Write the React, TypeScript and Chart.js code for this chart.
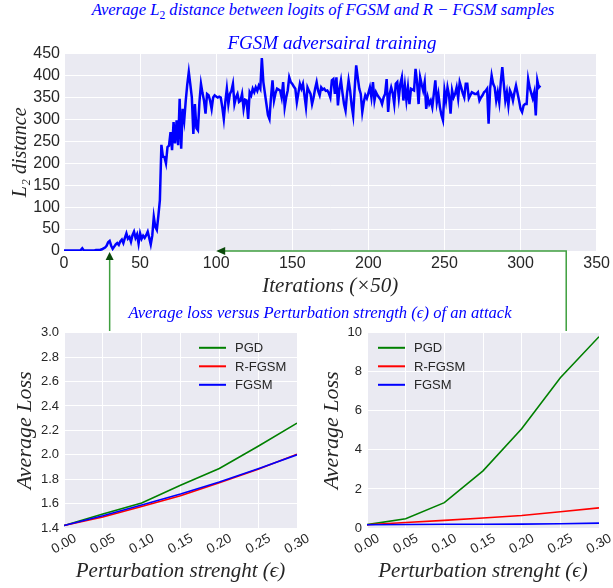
import React, { useEffect, useRef } from "react";
import { Chart, registerables } from "chart.js";

Chart.register(...registerables);

// ---------------- data ----------------
// Average L2 distance between logits, one value per logged iteration (x50)
const l2Distance = [
  1, 1, 1, 1, 1, 1, 1, 1, 1, 1,
  1, 2, 6, 1, 1, 1, 1, 1, 1, 1,
  1, 2, 2, 2, 3, 4, 6, 8, 12, 20,
  23, 12, 5, 10, 15, 18, 14, 22, 26, 18,
  30, 40, 28, 32, 21, 36, 44, 30, 38, 17,
  40, 28, 35, 30, 36, 44, 30, 15, 35, 78,
  55, 48, 80, 116, 242, 215, 214, 200, 237, 240,
  271, 230, 294, 245, 298, 241, 347, 233, 324, 298,
  343, 380, 408, 380, 350, 267, 335, 280, 275, 340,
  381, 360, 343, 313, 358, 355, 343, 324, 350, 355,
  352, 350, 352, 350, 328, 301, 340, 370, 335, 358,
  365, 381, 335, 350, 358, 340, 343, 358, 324, 345,
  343, 301, 362, 355, 370, 362, 373, 365, 377, 370,
  440, 385, 360, 335, 310, 301, 350, 389, 343, 360,
  370, 368, 366, 350, 385, 328, 350, 366, 396, 385,
  381, 375, 370, 339, 360, 381, 370, 381, 355, 328,
  373, 365, 358, 335, 350, 370, 385, 365, 355, 373,
  368, 370, 365, 366, 360, 350, 389, 392, 358, 396,
  332, 370, 389, 360, 335, 320, 360, 389, 366, 332,
  309, 370, 423, 396, 370, 358, 317, 340, 355, 348,
  360, 373, 350, 385, 343, 362, 355, 350, 345, 335,
  350, 358, 392, 317, 358, 373, 360, 335, 381, 385,
  350, 381, 396, 343, 377, 343, 373, 335, 370, 368,
  366, 415, 385, 335, 396, 380, 366, 385, 324, 350,
  335, 343, 328, 358, 389, 339, 358, 328, 310, 298,
  366, 343, 373, 355, 313, 366, 350, 358, 373, 348,
  385, 373, 360, 350, 381, 381, 348, 355, 362, 360,
  358, 358, 362, 343, 350, 355, 362, 365, 370, 290,
  370, 400, 381, 373, 343, 362, 339, 385, 419, 380,
  343, 362, 332, 366, 358, 343, 362, 377, 360, 343,
  324, 317, 332, 335, 335, 392, 373, 360, 348, 362,
  309, 389, 373, 377,
];

const epsilons = [0, 0.05, 0.1, 0.15, 0.2, 0.25, 0.3];
const seriesNames = ["PGD", "R-FGSM", "FGSM"];
const seriesColors = ["#008000", "#ff0000", "#0000ff"];

// left panel
const pgdLossA = [1.42, 1.514, 1.605, 1.75, 1.888, 2.07, 2.26];
const rfgsmLossA = [1.42, 1.49, 1.577, 1.665, 1.77, 1.882, 2.005];
const fgsmLossA = [1.42, 1.5, 1.588, 1.678, 1.777, 1.886, 2.0];
// right panel
const pgdLossB = [0.17, 0.47, 1.3, 2.93, 5.08, 7.7, 9.8];
const rfgsmLossB = [0.17, 0.28, 0.39, 0.51, 0.64, 0.83, 1.03];
const fgsmLossB = [0.17, 0.18, 0.19, 0.19, 0.2, 0.22, 0.25];

// arrows point at these iteration values of the top chart
const arrowUpIter = 30;
const arrowLeftIter = 100;
const arrowElbowIter = 330;

// ---------------- styles ----------------
const SANS = '"Liberation Sans", Arial, sans-serif';
const SERIF = '"Liberation Serif", "Times New Roman", serif';
const TXT = "#262626";
const BG = "#EAEAF2";

// ---------------- plugins ----------------
const bgPlugin = {
  id: "plotBg",
  beforeDraw(chart: any) {
    const { ctx, chartArea: a } = chart;
    ctx.save();
    ctx.fillStyle = BG;
    ctx.fillRect(a.left, a.top, a.right - a.left, a.bottom - a.top);
    ctx.restore();
  },
};

const rotTicksPlugin = {
  id: "rotTicks",
  afterDraw(chart: any, _args: any, opts: any) {
    if (!opts || !opts.enabled) return;
    const scale = chart.scales.x;
    const ctx = chart.ctx;
    ctx.save();
    ctx.font = opts.font;
    ctx.fillStyle = opts.color;
    ctx.textAlign = "center";
    ctx.textBaseline = "middle";
    scale.ticks.forEach((t: any) => {
      const px = scale.getPixelForValue(t.value);
      ctx.save();
      ctx.translate(px + opts.dx, chart.chartArea.bottom + opts.dy);
      ctx.rotate((-opts.angle * Math.PI) / 180);
      ctx.fillText(Number(t.value).toFixed(2), 0, 0);
      ctx.restore();
    });
    ctx.restore();
  },
};

const insideLegendPlugin = {
  id: "insideLegend",
  afterDraw(chart: any, _args: any, opts: any) {
    if (!opts || !opts.enabled) return;
    const ctx = chart.ctx;
    const a = chart.chartArea;
    ctx.save();
    ctx.font = opts.font;
    ctx.textAlign = "left";
    ctx.textBaseline = "middle";
    chart.data.datasets.forEach((ds: any, i: number) => {
      const x = a.left + opts.dx;
      const y = a.top + opts.dy + i * opts.rowH;
      ctx.strokeStyle = ds.borderColor;
      ctx.lineWidth = 2;
      ctx.beginPath();
      ctx.moveTo(x, y);
      ctx.lineTo(x + opts.len, y);
      ctx.stroke();
      ctx.fillStyle = TXT;
      ctx.fillText(ds.label, x + opts.textGap, y + 1);
    });
    ctx.restore();
  },
};

const arrowsPlugin = {
  id: "arrows",
  afterDraw(chart: any, _args: any, opts: any) {
    if (!opts || !opts.enabled) return;
    const ctx = chart.ctx;
    const xs = chart.scales.x;
    const yAxis = chart.chartArea.bottom;
    const yEnd = chart.height - opts.bottomGap;
    const xUp = xs.getPixelForValue(opts.up);
    const xLeft = xs.getPixelForValue(opts.left);
    const xElbow = xs.getPixelForValue(opts.elbow);
    ctx.save();
    ctx.strokeStyle = opts.lineColor;
    ctx.lineWidth = 1.5;
    ctx.beginPath();
    ctx.moveTo(xUp, yEnd);
    ctx.lineTo(xUp, yAxis + 8);
    ctx.stroke();
    ctx.beginPath();
    ctx.moveTo(xElbow, yEnd);
    ctx.lineTo(xElbow, yAxis);
    ctx.lineTo(xLeft + 8, yAxis);
    ctx.stroke();
    ctx.fillStyle = opts.headColor;
    ctx.beginPath();
    ctx.moveTo(xUp, yAxis + 1);
    ctx.lineTo(xUp - 4, yAxis + 9);
    ctx.lineTo(xUp + 4, yAxis + 9);
    ctx.closePath();
    ctx.fill();
    ctx.beginPath();
    ctx.moveTo(xLeft, yAxis);
    ctx.lineTo(xLeft + 9, yAxis - 4);
    ctx.lineTo(xLeft + 9, yAxis + 4);
    ctx.closePath();
    ctx.fill();
    ctx.restore();
  },
};

// ---------------- configs ----------------
function gridOpts() {
  return { color: "#ffffff", lineWidth: 1, drawTicks: false };
}

function topConfig(): any {
  return {
    type: "line",
    data: {
      datasets: [
        {
          label: "L2",
          data: l2Distance.map((v, i) => ({ x: i, y: v })),
          borderColor: "#0000ff",
          borderWidth: 2.5,
          pointRadius: 0,
          tension: 0,
          fill: false,
        },
      ],
    },
    options: {
      responsive: false,
      animation: false,
      events: [],
      layout: { padding: { left: 0, right: 14, top: 13, bottom: 35 } },
      plugins: {
        legend: { display: false },
        tooltip: { enabled: false },
        arrows: {
          enabled: true,
          up: arrowUpIter,
          left: arrowLeftIter,
          elbow: arrowElbowIter,
          bottomGap: 4,
          lineColor: "#3f9f3f",
          headColor: "#0b4a0b",
        },
      },
      scales: {
        x: {
          type: "linear",
          min: 0,
          max: 350,
          border: { display: false },
          grid: gridOpts(),
          ticks: {
            stepSize: 50,
            autoSkip: false,
            maxRotation: 0,
            padding: 3,
            color: TXT,
            font: { family: SANS, size: 16 },
          },
          title: {
            display: true,
            text: "Iterations (×50)",
            color: TXT,
            font: { family: SERIF, style: "italic", size: 21 },
            padding: { top: 0, bottom: 1 },
          },
          afterFit(s: any) {
            s.height = 49;
          },
        },
        y: {
          min: 0,
          max: 450,
          border: { display: false },
          grid: gridOpts(),
          ticks: {
            stepSize: 50,
            autoSkip: false,
            padding: 4,
            color: TXT,
            font: { family: SANS, size: 16 },
          },
          title: {
            display: true,
            text: "L₂ distance",
            color: TXT,
            font: { family: SERIF, style: "italic", size: 20 },
            padding: { top: 9, bottom: 0 },
          },
          afterFit(s: any) {
            s.width = 64;
          },
        },
      },
    },
    plugins: [bgPlugin, arrowsPlugin],
  };
}

function lossConfig(
  values: number[][],
  yMin: number,
  yMax: number,
  yStep: number,
  yDecimals: number,
  yWidth: number,
  padRight: number,
  titlePad: number,
  legendDx: number
): any {
  return {
    type: "line",
    data: {
      datasets: values.map((vals, i) => ({
        label: seriesNames[i],
        data: vals.map((v, j) => ({ x: epsilons[j], y: v })),
        borderColor: seriesColors[i],
        borderWidth: 1.6,
        pointRadius: 0,
        tension: 0,
        fill: false,
        order: values.length - 1 - i,
      })),
    },
    options: {
      responsive: false,
      animation: false,
      events: [],
      layout: { padding: { left: 0, right: padRight, top: 12, bottom: 0 } },
      plugins: {
        legend: { display: false },
        tooltip: { enabled: false },
        rotTicks: {
          enabled: true,
          font: `13.5px ${SANS}`,
          color: TXT,
          dx: 0,
          dy: 16,
          angle: 30,
        },
        insideLegend: {
          enabled: true,
          font: `13px ${SANS}`,
          dx: legendDx,
          dy: 15,
          rowH: 18.5,
          len: 27,
          textGap: 36,
        },
      },
      scales: {
        x: {
          type: "linear",
          min: 0,
          max: 0.3,
          border: { display: false },
          grid: gridOpts(),
          ticks: { display: false, stepSize: 0.05, autoSkip: false },
          title: {
            display: true,
            text: "Perturbation strenght (ϵ)",
            color: TXT,
            font: { family: SERIF, style: "italic", size: 21 },
            padding: { top: 0, bottom: 4 },
          },
          afterFit(s: any) {
            s.height = 60;
          },
        },
        y: {
          min: yMin,
          max: yMax,
          border: { display: false },
          grid: gridOpts(),
          ticks: {
            stepSize: yStep,
            autoSkip: false,
            padding: 5,
            color: TXT,
            font: { family: SANS, size: 13 },
            callback: (v: any) => Number(v).toFixed(yDecimals),
          },
          title: {
            display: true,
            text: "Average Loss",
            color: TXT,
            font: { family: SERIF, style: "italic", size: 22 },
            padding: { top: titlePad, bottom: 0 },
          },
          afterFit(s: any) {
            s.width = yWidth;
          },
        },
      },
    },
    plugins: [bgPlugin, rotTicksPlugin, insideLegendPlugin],
  };
}

// ---------------- component ----------------
function Title(props: { cx: number; cy: number; size: number; children: any }) {
  return (
    <div
      style={{
        position: "absolute",
        left: props.cx - 300,
        width: 600,
        top: props.cy - 12,
        height: 24,
        lineHeight: "24px",
        textAlign: "center",
        whiteSpace: "nowrap",
        fontFamily: SERIF,
        fontStyle: "italic",
        fontSize: props.size,
        color: "#0000ff",
      }}
    >
      {props.children}
    </div>
  );
}

export default function App() {
  const topRef = useRef<HTMLCanvasElement>(null);
  const leftRef = useRef<HTMLCanvasElement>(null);
  const rightRef = useRef<HTMLCanvasElement>(null);

  useEffect(() => {
    const charts = [
      new Chart(topRef.current as HTMLCanvasElement, topConfig()),
      new Chart(
        leftRef.current as HTMLCanvasElement,
        lossConfig([pgdLossA, rfgsmLossA, fgsmLossA], 1.4, 3.0, 0.2, 1, 64, 16, 12, 135)
      ),
      new Chart(
        rightRef.current as HTMLCanvasElement,
        lossConfig([pgdLossB, rfgsmLossB, fgsmLossB], 0, 10, 2, 0, 54, 14, 6, 11)
      ),
    ];
    return () => charts.forEach((c) => c.destroy());
  }, []);

  return (
    <div
      style={{
        position: "absolute",
        left: 0,
        top: 0,
        width: 613,
        height: 588,
        overflow: "hidden",
        background: "#ffffff",
      }}
    >
      <canvas ref={topRef} width={613} height={295} style={{ position: "absolute", left: 0, top: 40 }} />
      <canvas ref={leftRef} width={313} height={268} style={{ position: "absolute", left: 0, top: 320 }} />
      <canvas ref={rightRef} width={300} height={268} style={{ position: "absolute", left: 313, top: 320 }} />
      <Title cx={323} cy={10} size={16.6}>
        Average L<sub style={{ fontSize: "70%", fontStyle: "normal" }}>2</sub> distance between logits of FGSM and R − FGSM samples
      </Title>
      <Title cx={332} cy={43} size={19}>
        FGSM adversairal training
      </Title>
      <Title cx={320} cy={313} size={16.6}>
        Average loss versus Perturbation strength (ϵ) of an attack
      </Title>
    </div>
  );
}
